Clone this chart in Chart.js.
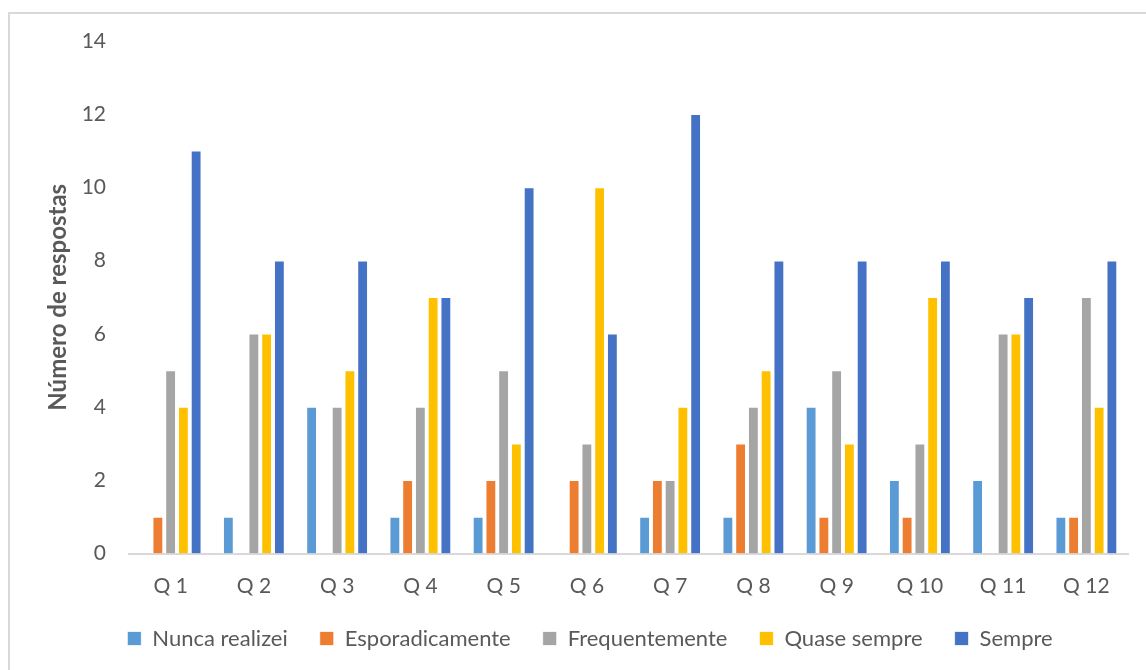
<!DOCTYPE html>
<html>
<head>
<meta charset="utf-8">
<script src="https://cdn.jsdelivr.net/npm/chart.js@4.4.1/dist/chart.umd.min.js"></script>
<style>
  html, body { margin: 0; padding: 0; background: #fff; overflow: hidden; }
  #wrap { position: absolute; left: 0; top: 0; width: 1146px; height: 670px; }
  #frame { position: absolute; left: 8px; top: 12px; width: 1200px; height: 700px; border: 2px solid #D9D9D9; box-sizing: border-box; }
  canvas { position: absolute; left: 0; top: 0; }
</style>
</head>
<body>
<div id="wrap">
  <div id="frame"></div>
  <canvas id="c" width="1146" height="670"></canvas>
</div>
<script>
const categories = ['Q 1','Q 2','Q 3','Q 4','Q 5','Q 6','Q 7','Q 8','Q 9','Q 10','Q 11','Q 12'];
const seriesNames = ['Nunca realizei','Esporadicamente','Frequentemente','Quase sempre','Sempre'];
const nuncaRealizei   = [0, 1, 4, 1, 1, 0, 1, 1, 4, 2, 2, 1];
const esporadicamente = [1, 0, 0, 2, 2, 2, 2, 3, 1, 1, 0, 1];
const frequentemente  = [5, 6, 4, 4, 5, 3, 2, 4, 5, 3, 6, 7];
const quaseSempre     = [4, 6, 5, 7, 3, 10, 4, 5, 3, 7, 6, 4];
const sempre          = [11, 8, 8, 7, 10, 6, 12, 8, 8, 8, 7, 8];
const colors = ['#5B9BD5', '#ED7D31', '#A5A5A5', '#FFC000', '#4472C4'];
const yTitle = 'Número de respostas';

const seriesData = [nuncaRealizei, esporadicamente, frequentemente, quaseSempre, sempre];
const FONT = 'Lato, "Open Sans", sans-serif';

new Chart(document.getElementById('c'), {
  type: 'bar',
  data: {
    labels: categories,
    datasets: seriesData.map((d, i) => ({
      label: seriesNames[i],
      data: d,
      backgroundColor: colors[i],
      borderColor: '#FFFFFF',
      borderWidth: 0.75,
      categoryPercentage: 0.766,
      barPercentage: 0.81
    }))
  },
  options: {
    responsive: false,
    animation: false,
    devicePixelRatio: 1,
    layout: { padding: { left: 52, right: 18, top: 41, bottom: 10.5 } },
    plugins: {
      tooltip: { enabled: false },
      legend: {
        position: 'bottom',
        labels: {
          boxWidth: 14,
          boxHeight: 14,
          padding: 32,
          color: '#595959',
          font: { family: FONT, size: 22 }
        }
      }
    },
    scales: {
      x: {
        grid: { display: false, drawTicks: false },
        border: { display: true, color: '#D9D9D9', width: 2 },
        ticks: { color: '#595959', font: { family: FONT, size: 21 }, padding: 20, maxRotation: 0 },
        afterFit: (s) => { s.height = 42; }
      },
      y: {
        min: 0,
        max: 14,
        grid: { display: false, drawTicks: false },
        border: { display: false },
        ticks: { stepSize: 2, color: '#595959', font: { family: FONT, size: 21 }, padding: 23 },
        title: {
          display: true,
          text: yTitle,
          color: '#595959',
          font: { family: FONT, size: 24, weight: 'bold' },
          padding: { top: -8, bottom: 0 }
        },
        afterFit: (s) => { s.width = 77; }
      }
    }
  }
});
</script>
</body>
</html>
